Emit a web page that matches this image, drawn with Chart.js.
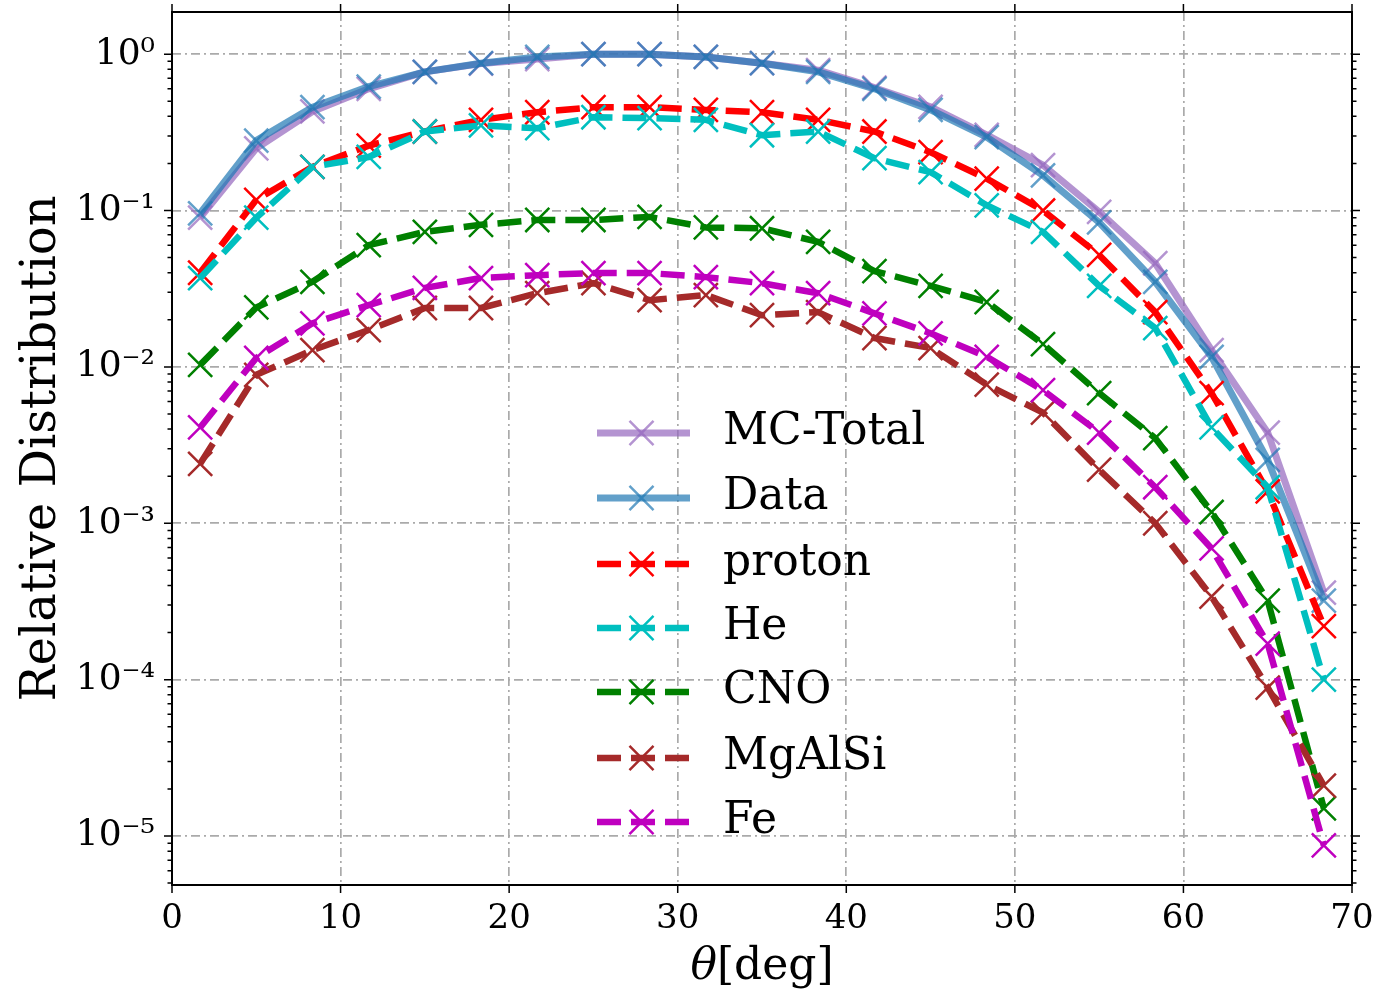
<!DOCTYPE html>
<html>
<head>
<meta charset="utf-8">
<script src="https://cdn.jsdelivr.net/npm/chart.js@4.4.1/dist/chart.umd.min.js"></script>
<style>
  html, body { margin: 0; padding: 0; background: #fff; }
  #wrap { width: 1400px; height: 999px; }
</style>
</head>
<body>
<div id="wrap"><canvas id="c" width="1400" height="999"></canvas></div>
<script>
// bin centres in degrees
const theta = [1.67, 5.0, 8.33, 11.67, 15.0, 18.33, 21.67, 25.0, 28.33, 31.67, 35.0,
               38.33, 41.67, 45.0, 48.33, 51.67, 55.0, 58.33, 61.67, 65.0, 68.33];

// values
const mcTotal = [0.09, 0.25, 0.43, 0.60, 0.77, 0.87, 0.93, 1.0, 1.0, 0.96, 0.875,
                 0.79, 0.61, 0.46, 0.305, 0.195, 0.098, 0.046, 0.0128, 0.0038, 0.00036];
const data    = [0.096, 0.28, 0.458, 0.62, 0.77, 0.875, 0.96, 1.0, 1.0, 0.96, 0.875,
                 0.77, 0.60, 0.44, 0.295, 0.168, 0.084, 0.035, 0.0116, 0.00254, 0.00032];
const proton  = [0.040, 0.117, 0.19, 0.26, 0.32, 0.38, 0.425, 0.458, 0.458, 0.44, 0.425,
                 0.38, 0.32, 0.236, 0.16, 0.10, 0.052, 0.0224, 0.0068, 0.0016, 0.00022];
const helium  = [0.037, 0.09, 0.19, 0.22, 0.32, 0.35, 0.336, 0.395, 0.39, 0.38, 0.303,
                 0.32, 0.216, 0.176, 0.108, 0.073, 0.033, 0.0177, 0.0041, 0.0017, 0.0001];
const cno     = [0.0103, 0.024, 0.035, 0.06, 0.073, 0.081, 0.087, 0.087, 0.091, 0.078, 0.077,
                 0.063, 0.041, 0.033, 0.026, 0.014, 0.0068, 0.0035, 0.00118, 0.00032, 0.000015];
const mgalsi  = [0.0024, 0.0089, 0.0128, 0.0172, 0.0238, 0.0238, 0.0296, 0.0343, 0.0267, 0.0288, 0.0214,
                 0.0224, 0.0153, 0.0132, 0.0077, 0.0051, 0.0022, 0.001, 0.00034, 0.000089, 0.000021];
const fe      = [0.0041, 0.0114, 0.019, 0.0248, 0.032, 0.037, 0.0386, 0.0398, 0.0398, 0.0375, 0.0343,
                 0.0296, 0.022, 0.0164, 0.0116, 0.0071, 0.0038, 0.0017, 0.00069, 0.00017, 0.0000087];

const yTickValues = [1e-5, 1e-4, 1e-3, 1e-2, 1e-1, 1];
const xTickValues = [0, 10, 20, 30, 40, 50, 60, 70];

const SERIF = '"DejaVu Serif", serif';
const sup = {'0': '⁰', '1': '¹', '2': '²', '3': '³', '4': '⁴', '5': '⁵', '6': '⁶', '-': '⁻'};

function pts(ys) {
  return theta.map((t, i) => ({x: t, y: ys[i]}));
}

function series(label, ys, color, solid, i) {
  return {
    label: label,
    data: pts(ys),
    borderColor: color,
    backgroundColor: color,
    borderWidth: solid ? 7 : 6.5,
    borderDash: solid ? [] : [24, 10],
    borderCapStyle: 'butt',
    borderJoinStyle: 'round',
    pointStyle: 'crossRot',
    pointRadius: 17,
    pointBorderWidth: 2.5,
    pointBorderColor: color,
    pointHoverRadius: 17,
    tension: 0,
    fill: false,
    clip: false,
    order: 10 - i
  };
}

const datasets = [
  series('MC-Total', mcTotal, 'rgba(148,103,189,0.7)', true, 0),
  series('Data', data, 'rgba(31,119,180,0.7)', true, 1),
  series('proton', proton, '#ff0000', false, 2),
  series('He', helium, '#00bfbf', false, 3),
  series('CNO', cno, '#008000', false, 4),
  series('MgAlSi', mgalsi, '#a52a2a', false, 5),
  series('Fe', fe, '#bf00bf', false, 6)
];

// no label overhang padding, the plot box is placed by hand
function noPad(s) {
  s.paddingTop = 0; s.paddingBottom = 0; s.paddingLeft = 0; s.paddingRight = 0;
}

// frame, outward ticks, legend and x title
const decorations = {
  id: 'decorations',
  afterDraw(chart) {
    const ctx = chart.ctx;
    const a = chart.chartArea;
    const x = chart.scales.x, y = chart.scales.y;
    ctx.save();
    ctx.strokeStyle = '#000';
    ctx.lineWidth = 1.5;
    ctx.setLineDash([]);

    // y ticks, major + minor, both sides
    for (let e = -6; e <= 0; e++) {
      for (let m = 1; m <= 9; m++) {
        const v = m * Math.pow(10, e);
        if (v < y.min || v > y.max) continue;
        const py = y.getPixelForValue(v);
        const len = m === 1 ? 8 : 4.5;
        ctx.beginPath();
        ctx.moveTo(a.left - len, py); ctx.lineTo(a.left, py);
        ctx.moveTo(a.right, py); ctx.lineTo(a.right + len, py);
        ctx.stroke();
      }
    }
    // x ticks, bottom + top
    xTickValues.forEach(v => {
      const px = x.getPixelForValue(v);
      ctx.beginPath();
      ctx.moveTo(px, a.bottom); ctx.lineTo(px, a.bottom + 8);
      ctx.moveTo(px, a.top - 8); ctx.lineTo(px, a.top);
      ctx.stroke();
    });

    // frame
    ctx.lineWidth = 2;
    ctx.strokeRect(a.left, a.top, a.right - a.left, a.bottom - a.top);

    // legend
    const lx0 = 597, lx1 = 690, tx = 723;
    const rowY = [433, 498, 564, 628, 692, 758, 822];
    chart.data.datasets.forEach((ds, i) => {
      const yy = rowY[i];
      ctx.strokeStyle = ds.borderColor;
      ctx.lineWidth = ds.borderWidth;
      ctx.lineCap = 'butt';
      ctx.setLineDash(ds.borderDash);
      ctx.beginPath();
      ctx.moveTo(lx0, yy); ctx.lineTo(lx1, yy);
      ctx.stroke();
      ctx.setLineDash([]);
      const cx = (lx0 + lx1) / 2 - 2;
      const r = ds.pointRadius * Math.SQRT1_2;
      ctx.lineWidth = ds.pointBorderWidth;
      ctx.beginPath();
      ctx.moveTo(cx - r, yy - r); ctx.lineTo(cx + r, yy + r);
      ctx.moveTo(cx - r, yy + r); ctx.lineTo(cx + r, yy - r);
      ctx.stroke();
      ctx.fillStyle = '#000';
      ctx.font = '44px ' + SERIF;
      ctx.textBaseline = 'middle';
      ctx.textAlign = 'left';
      ctx.fillText(ds.label, tx, yy);
    });

    // x title: italic theta + [deg]
    ctx.fillStyle = '#000';
    ctx.textBaseline = 'middle';
    ctx.textAlign = 'left';
    const cxT = (a.left + a.right) / 2;
    ctx.font = 'italic 44px ' + SERIF;
    const w1 = ctx.measureText('θ').width;
    ctx.font = '44px ' + SERIF;
    const w2 = ctx.measureText('[deg]').width;
    let sx = cxT - (w1 + w2) / 2;
    ctx.font = 'italic 44px ' + SERIF;
    ctx.fillText('θ', sx, 968);
    ctx.font = '44px ' + SERIF;
    ctx.fillText('[deg]', sx + w1, 968);
    ctx.restore();
  }
};

const gridColor = '#aaaaaa';

new Chart(document.getElementById('c'), {
  type: 'line',
  data: {datasets: datasets},
  options: {
    responsive: false,
    devicePixelRatio: 1,
    animation: false,
    layout: {autoPadding: false, padding: {left: 0, top: 12, right: 48, bottom: 0}},
    plugins: {legend: {display: false}, tooltip: {enabled: false}},
    scales: {
      x: {
        type: 'linear',
        min: 0, max: 70,
        afterBuildTicks: s => { s.ticks = xTickValues.map(v => ({value: v})); },
        afterFit: s => { s.height = 114; noPad(s); },
        grid: {color: gridColor, lineWidth: 1.7, drawTicks: false},
        border: {display: false, dash: [9, 4, 2, 4]},
        ticks: {
          color: '#000',
          font: {family: SERIF, size: 34},
          padding: 14,
          maxRotation: 0
        },
        title: {display: false}
      },
      y: {
        type: 'logarithmic',
        min: 4.86e-6, max: 1.86,
        afterBuildTicks: s => { s.ticks = yTickValues.map(v => ({value: v})); },
        afterFit: s => { s.width = 172; noPad(s); },
        grid: {color: gridColor, lineWidth: 1.7, drawTicks: false},
        border: {display: false, dash: [9, 4, 2, 4]},
        ticks: {
          color: '#000',
          font: {family: SERIF, size: 36},
          padding: 17,
          callback: v => {
            const e = String(Math.round(Math.log10(v)));
            return '10' + e.split('').map(c => sup[c]).join('');
          }
        },
        title: {
          display: true,
          text: 'Relative Distribution',
          color: '#000',
          font: {family: SERIF, size: 48},
          padding: {top: 14, bottom: 2}
        }
      }
    }
  },
  plugins: [decorations]
});
</script>
</body>
</html>
